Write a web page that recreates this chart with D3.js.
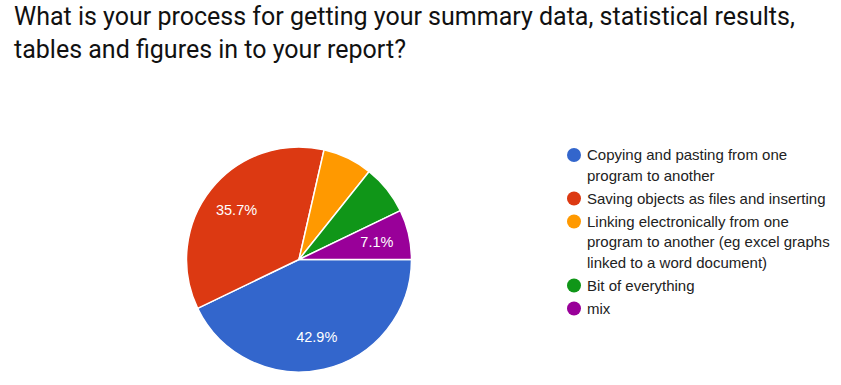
<!DOCTYPE html>
<html>
<head>
<meta charset="utf-8">
<script src="https://cdn.jsdelivr.net/npm/d3@7"></script>
<style>
  body { margin: 0; background: #fff; }
  svg { display: block; }
</style>
</head>
<body>
<div id="chart"></div>
<script>
/* CONSTANTS AND GLOBALS */
const width = 841,
  height = 385,
  radius = 112.5,
  center = { x: 299, y: 259.5 };

const titleLines = [
  "What is your process for getting your summary data, statistical results,",
  "tables and figures in to your report?"
];

// answers, each legend entry may wrap over several lines
const categories = [
  ["Copying and pasting from one", "program to another"],
  ["Saving objects as files and inserting"],
  ["Linking electronically from one", "program to another (eg excel graphs", "linked to a word document)"],
  ["Bit of everything"],
  ["mix"]
];
const counts = [6, 5, 1, 1, 1];
const showLabel = [true, true, false, false, true];
const colors = ["#3366cc", "#dc3912", "#ff9900", "#109618", "#990099"];

const total = d3.sum(counts);
const data = counts.map((v, i) => ({ i, value: v, label: categories[i], show: showLabel[i] }));

const svg = d3.select("#chart")
  .append("svg")
  .attr("width", width)
  .attr("height", height);

// TITLE
svg.append("g")
  .selectAll("text")
  .data(titleLines)
  .join("text")
  .attr("x", 14)
  .attr("y", (d, i) => 25 + i * 32.5)
  .attr("font-family", "Roboto, sans-serif")
  .attr("font-size", 25)
  .attr("fill", "#111")
  .text(d => d);

// PIE - starts at 3 o'clock, clockwise
const pie = d3.pie()
  .sort(null)
  .value(d => d.value)
  .startAngle(Math.PI / 2)
  .endAngle(Math.PI / 2 + 2 * Math.PI);

const arc = d3.arc().innerRadius(0).outerRadius(radius);
const labelArc = d3.arc().innerRadius(radius * 0.71).outerRadius(radius * 0.71);

const g = svg.append("g")
  .attr("transform", `translate(${center.x}, ${center.y})`);

const arcs = pie(data);

g.selectAll("path")
  .data(arcs)
  .join("path")
  .attr("d", arc)
  .attr("fill", d => colors[d.data.i])
  .attr("stroke", "#fff")
  .attr("stroke-width", 1.5);

g.selectAll("text")
  .data(arcs.filter(d => d.data.show))
  .join("text")
  .attr("transform", d => `translate(${labelArc.centroid(d)})`)
  .attr("text-anchor", "middle")
  .attr("dy", "0.35em")
  .attr("font-family", "Arial, 'Liberation Sans', sans-serif")
  .attr("font-size", 14.5)
  .attr("fill", "#fff")
  .text(d => d3.format(".1%")(d.data.value / total));

// LEGEND
const lineH = 20.5, gap = 2.5;
let yPos = 155;
const legend = svg.append("g");
data.forEach(d => {
  const item = legend.append("g").attr("transform", `translate(574, ${yPos})`);
  item.append("circle")
    .attr("r", 7)
    .attr("fill", colors[d.i]);
  item.selectAll("text")
    .data(d.label)
    .join("text")
    .attr("x", 13)
    .attr("y", (t, j) => j * lineH)
    .attr("dy", "0.35em")
    .attr("font-family", "Arial, 'Liberation Sans', sans-serif")
    .attr("font-size", 15)
    .attr("fill", "#222")
    .text(t => t);
  yPos += d.label.length * lineH + gap;
});
</script>
</body>
</html>
